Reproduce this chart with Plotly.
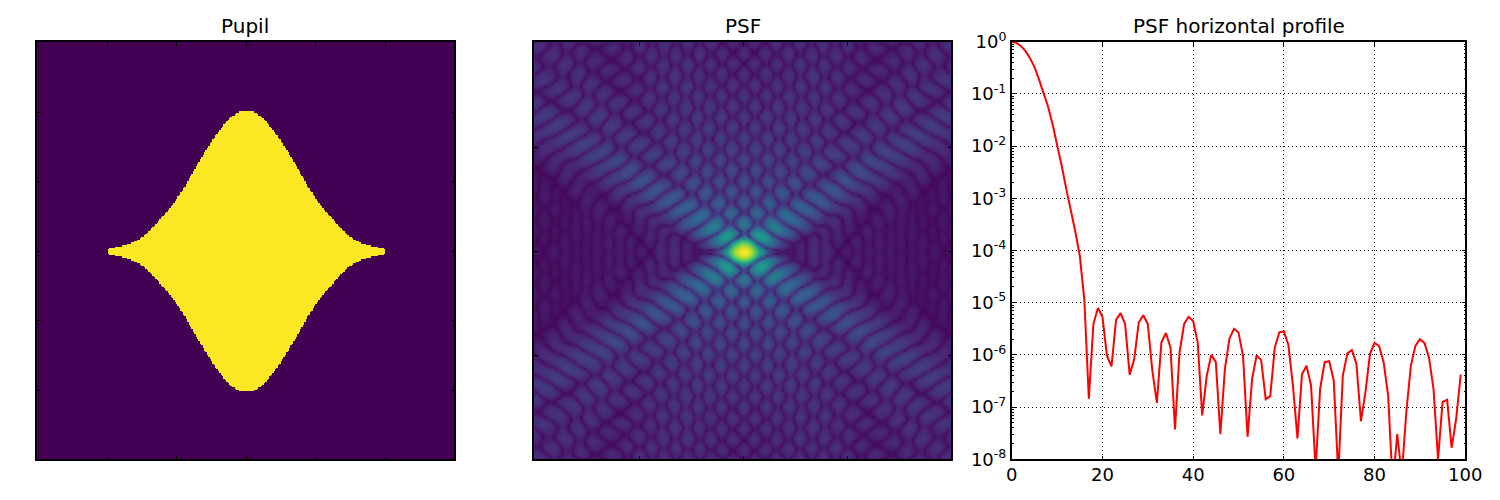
import numpy as np
import plotly.graph_objects as go

TITLES = ["Pupil", "PSF", "PSF horizontal profile"]
PUPIL_OFFSET = [0, 5, 10, 15, 20, 25, 30, 35, 40, 45, 50, 55, 60, 65, 70, 75, 80, 85, 90, 95, 97, 99]
PUPIL_HALF = [101, 100.5, 97.5, 92.5, 86, 79, 71, 63, 54, 45, 37.5, 31, 25.5, 19.5, 14, 10, 7, 5, 3.8, 2.8, 2.6, 1.5]
PROFILE_LOG10 = [0, -0.02, -0.08, -0.175, -0.31, -0.48, -0.72, -0.96, -1.24, -1.58,
                 -1.96, -2.37, -2.81, -3.19, -3.63, -4.1, -4.94, -6.84, -5.41, -5.1,
                 -5.27, -6.02, -6.22, -5.33, -5.2, -5.41, -6.38, -6.08, -5.38, -5.24,
                 -5.41, -6.3, -6.92, -5.76, -5.58, -5.86, -7.43, -5.95, -5.41, -5.27,
                 -5.35, -5.76, -7.16, -6.4, -6.0, -6.14, -7.52, -6.27, -5.69, -5.5,
                 -5.57, -6.02, -7.57, -6.46, -6.01, -6.1, -6.85, -6.79, -5.86, -5.57,
                 -5.55, -5.81, -6.59, -7.6, -6.37, -6.21, -6.59, -8.2, -6.65, -6.14,
                 -6.12, -6.49, -8.3, -6.4, -5.97, -5.91, -6.17, -7.27, -6.71, -5.98,
                 -5.77, -5.83, -6.14, -6.78, -8.5, -7.52, -8.3, -7.1, -6.21, -5.83,
                 -5.7, -5.77, -6.05, -6.65, -8.0, -6.9, -6.86, -7.78, -7.22, -6.38]
Y_TICK_EXP = [0, -1, -2, -3, -4, -5, -6, -7, -8]
X_TICKS = [0, 20, 40, 60, 80, 100]
PUPIL_TICKS = [50, 100, 150, 200, 250]
PSF_TICKS = [-50, 0, 50]
PUPIL_SIZE = 300
FFT_SIZE = 1024
PSF_HALF = 100
PSF_STRETCH = 0.2

# Pupil mask from the boundary table (table corners softened)
c = PUPIL_SIZE // 2
offsets = np.arange(0, 100)
half = np.interp(offsets, PUPIL_OFFSET, PUPIL_HALF)
kernel = np.array([1, 2, 3, 4, 5, 4, 3, 2, 1], dtype=float)
kernel /= kernel.sum()
pad = len(kernel) // 2
padded = np.concatenate([half[pad:0:-1], half, np.full(pad, half[-1])])
half = np.convolve(padded, kernel, mode="valid")
yy, xx = np.mgrid[0:PUPIL_SIZE, 0:PUPIL_SIZE]
hh = np.interp(np.abs(xx - c), offsets, half, right=-1)
pupil = (np.abs(yy - c) <= hh).astype(float)

# PSF is the optical transform of that mask, on a power stretch
field = np.fft.fftshift(np.fft.fft2(np.fft.ifftshift(np.pad(pupil, (FFT_SIZE - PUPIL_SIZE) // 2))))
psf = np.abs(field) ** 2
psf /= psf.max()
m = FFT_SIZE // 2
crop = psf[m - PSF_HALF:m + PSF_HALF, m - PSF_HALF:m + PSF_HALF] ** PSF_STRETCH
axis_psf = np.arange(-PSF_HALF, PSF_HALF)

fig = go.Figure()
fig.add_trace(go.Heatmap(z=pupil, colorscale="Viridis", zmin=0, zmax=1, showscale=False,
                         xaxis="x", yaxis="y", hoverinfo="skip"))
fig.add_trace(go.Heatmap(z=crop, x=axis_psf, y=axis_psf, colorscale="Viridis", zmin=0, zmax=1,
                         zsmooth="best", showscale=False, xaxis="x2", yaxis="y2", hoverinfo="skip"))
fig.add_trace(go.Scatter(x=list(range(len(PROFILE_LOG10))), y=[10.0 ** v for v in PROFILE_LOG10],
                         mode="lines", line=dict(color="#ff0000", width=2), xaxis="x3", yaxis="y3",
                         showlegend=False))

W, H = 1500.0, 500.0
top, bottom = 41.75, 459.25
ydom = [1 - bottom / H, 1 - top / H]
frame = dict(showline=True, linecolor="black", linewidth=1.5, mirror="allticks", ticks="inside",
             ticklen=4, tickcolor="black", tickwidth=1, showgrid=False, zeroline=False, automargin=False)
grid = dict(showgrid=True, gridcolor="black", griddash="1px,3px", gridwidth=1)
fig.update_layout(
    width=1500, height=500, margin=dict(l=0, r=0, t=0, b=0), autosize=False,
    paper_bgcolor="white", plot_bgcolor="white", showlegend=False,
    font=dict(family="DejaVu Sans", size=18, color="black"),
    xaxis=dict(anchor="y", domain=[36.75 / W, 454.25 / W], range=[-0.5, 299.5], tickvals=PUPIL_TICKS, showticklabels=False, **frame),
    yaxis=dict(anchor="x", domain=ydom, range=[299.5, -0.5], tickvals=PUPIL_TICKS, showticklabels=False, **frame),
    xaxis2=dict(anchor="y2", domain=[533.75 / W, 951.25 / W], range=[-PSF_HALF - 0.5, PSF_HALF - 0.5], tickvals=PSF_TICKS, showticklabels=False, **frame),
    yaxis2=dict(anchor="x2", domain=ydom, range=[PSF_HALF - 0.5, -PSF_HALF - 0.5], tickvals=PSF_TICKS, showticklabels=False, **frame),
    xaxis3=dict(anchor="y3", domain=[1011.75 / W, 1465.25 / W], range=[0, 100], tickvals=X_TICKS, ticktext=[str(v) for v in X_TICKS],
                ticklabelstandoff=-2, **{**frame, **grid}),
    yaxis3=dict(anchor="x3", domain=ydom, type="log", range=[-8, 0], tickvals=[10.0 ** e for e in Y_TICK_EXP],
                ticktext=["10<sup>%d</sup>" % e for e in Y_TICK_EXP],
                minor=dict(ticks="inside", ticklen=2, tickcolor="black", showgrid=False,
                           tickvals=[m_ * 10.0 ** e for e in Y_TICK_EXP[1:] for m_ in range(2, 10)]),
                **{**frame, **grid}),
    annotations=[
        dict(text=t, xref="paper", yref="paper", x=xc / W, y=1 - 40 / H, xanchor="center", yanchor="bottom",
             showarrow=False, font=dict(size=20, family="DejaVu Sans", color="black"))
        for t, xc in zip(TITLES, [245.5, 742.5, 1238.5])
    ],
)
fig.write_html("out.html", post_script="document.body.style.margin='0';", config={"displayModeBar": False})
